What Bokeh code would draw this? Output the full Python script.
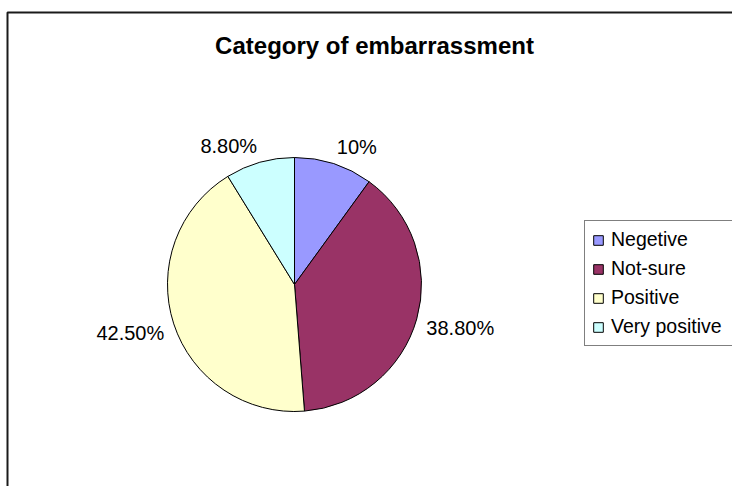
import math
from bokeh.plotting import figure
from bokeh.models import (ColumnDataSource, Range1d, Label, Legend, LegendItem,
                          BoxAnnotation)
from bokeh.embed import file_html
from bokeh.resources import INLINE

# ---- data ----
categories = ["Negetive", "Not-sure", "Positive", "Very positive"]
values = [10.0, 38.8, 42.5, 8.8]
value_labels = ["10%", "38.80%", "42.50%", "8.80%"]
colors = ["#9999FF", "#993366", "#FFFFCC", "#CCFFFF"]
title_text = "Category of embarrassment"

W, H = 732, 486
FONT = "Liberation Sans"

p = figure(width=W, height=H, output_backend="svg", toolbar_location=None,
           x_range=Range1d(0, W), y_range=Range1d(0, H),
           x_axis_location=None, y_axis_location=None,
           min_border=0, outline_line_color=None,
           background_fill_color="white", border_fill_color="white")
p.grid.visible = False

# chart frame
p.add_layout(BoxAnnotation(left=7, right=W + 50, top=H - 12, bottom=-50,
                           fill_alpha=0, line_color="#1a1a1a", line_alpha=1,
                           line_width=2))

# pie geometry
cx, cy, r = 294, H - 284, 127
total = sum(values)
starts, ends, mids = [], [], []
acc = 0.0
for v in values:
    a0 = math.pi / 2 - 2 * math.pi * acc / total
    acc += v
    a1 = math.pi / 2 - 2 * math.pi * acc / total
    starts.append(a0)
    ends.append(a1)
    mids.append((a0 + a1) / 2)

src = ColumnDataSource(dict(cat=categories, val=values, start=starts, end=ends,
                            color=colors))
wr = p.wedge(x=cx, y=cy, radius=r, start_angle="start", end_angle="end",
             direction="clock", fill_color="color", line_color="black",
             line_width=1, source=src)

# data labels outside the pie
for lab, m in zip(value_labels, mids):
    px = cx + (r + 10) * math.cos(m)
    py = cy + (r + 10) * math.sin(m)
    align = "left" if math.cos(m) >= 0 else "right"
    if math.sin(m) > 0.7:
        base = "bottom"
        py -= 4
    elif math.sin(m) < -0.7:
        base = "top"
    else:
        base = "middle"
        py -= 6
    p.add_layout(Label(x=px, y=py, text=lab, text_align=align,
                       text_baseline=base, text_font=FONT,
                       text_font_size="20px", text_color="black"))

# title
p.add_layout(Label(x=374, y=H - 45, text=title_text, text_align="center",
                   text_baseline="middle", text_font=FONT,
                   text_font_size="24px", text_font_style="bold",
                   text_color="black"))

# legend
items = [LegendItem(label=c, renderers=[wr], index=i)
         for i, c in enumerate(categories)]
legend = Legend(items=items, location=(584, H - 346),
                border_line_color="black", border_line_width=1,
                background_fill_color="white", background_fill_alpha=1,
                label_text_font=FONT, label_text_font_size="19.5px",
                label_text_color="black", glyph_width=12, glyph_height=12,
                label_standoff=7, label_height=22, label_width=125,
                spacing=6, padding=7, margin=0)
p.add_layout(legend)

open("out.html", "w").write(file_html(p, INLINE))
